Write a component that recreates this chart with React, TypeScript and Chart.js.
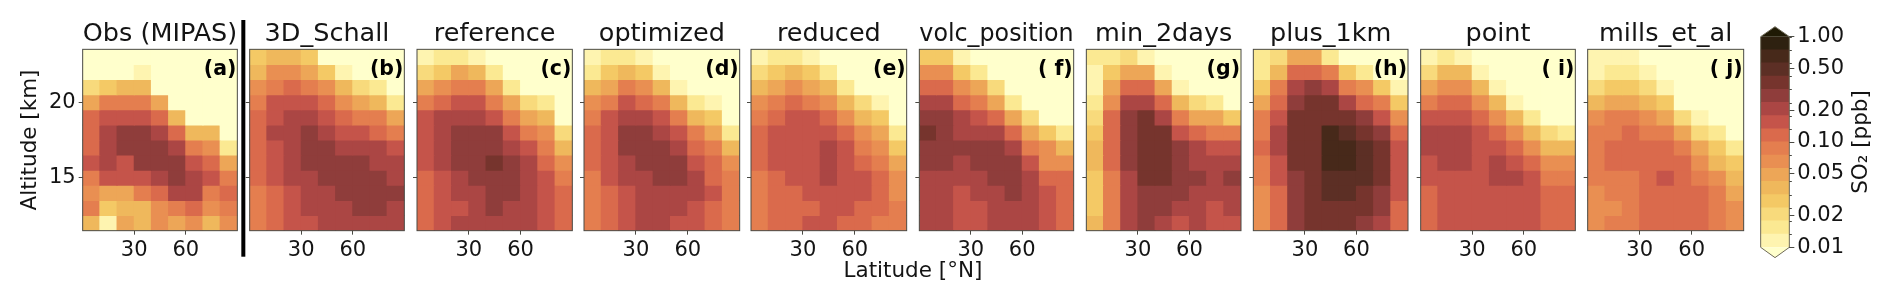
import React, { useEffect, useRef } from "react";
import { Chart, registerables } from "chart.js";

Chart.register(...registerables);

const LATITUDES = [5, 15, 25, 35, 45, 55, 65, 75, 85];
const ALTITUDES = [23, 22, 21, 20, 19, 18, 17, 16, 15, 14, 13, 12];
const LAT_TICKS = [30, 60];
const ALT_TICKS = [15, 20];
const CBAR_TICKS = [0.01, 0.02, 0.05, 0.1, 0.2, 0.5, 1.0];
const LEVELS = [0.01, 0.01334, 0.01778, 0.02371, 0.03162, 0.04217, 0.05623, 0.07499, 0.1, 0.1334, 0.1778, 0.2371, 0.3162, 0.4217, 0.5623, 0.7499, 1.0];
const LEVEL_COLORS = ["#fef4b0", "#fbe992", "#f8da7c", "#f4c965", "#efb85c", "#eda657", "#e98f52", "#e47e4f", "#da6a4c", "#c5544a", "#ab4644", "#8f3d3b", "#76342d", "#5c2f25", "#47291a", "#2e2110"];
const UNDER_COLOR = "#ffffcc";
const OVER_COLOR = "#1f1a05";

const TITLES = ["Obs (MIPAS)", "3D_Schall", "reference", "optimized", "reduced", "volc_position", "min_2days", "plus_1km", "point", "mills_et_al"];
const LETTERS = ["(a)", "(b)", "(c)", "(d)", "(e)", "( f)", "(g)", "(h)", "( i)", "( j)"];

const obs = [
  [.008,.008,.008,.008,.008,.008,.008,.008,.008],
  [.008,.008,.008,.012,.008,.008,.008,.008,.008],
  [.02,.027,.036,.036,.008,.008,.008,.008,.008],
  [.049,.087,.087,.087,.049,.008,.008,.008,.008],
  [.115,.154,.154,.154,.115,.036,.008,.008,.008],
  [.115,.205,.274,.274,.205,.115,.036,.036,.008],
  [.115,.205,.274,.274,.274,.205,.087,.065,.015],
  [.154,.205,.154,.274,.274,.274,.154,.115,.049],
  [.087,.154,.154,.154,.205,.274,.205,.154,.087],
  [.065,.049,.049,.087,.115,.205,.205,.087,.115],
  [.087,.027,.036,.036,.065,.087,.115,.065,.087],
  [.036,.012,.049,.036,.065,.049,.065,.036,.065],
];
const schall = [
  [.027,.036,.036,.027,.008,.008,.008,.008,.008],
  [.036,.065,.065,.049,.027,.012,.008,.008,.008],
  [.065,.087,.115,.087,.065,.036,.02,.015,.008],
  [.087,.154,.154,.154,.115,.065,.049,.036,.015],
  [.115,.154,.205,.205,.154,.115,.087,.087,.049],
  [.115,.205,.205,.274,.205,.154,.154,.115,.087],
  [.115,.154,.205,.274,.274,.205,.205,.205,.154],
  [.115,.154,.205,.274,.274,.274,.274,.205,.205],
  [.115,.154,.205,.205,.274,.274,.274,.274,.205],
  [.087,.115,.154,.205,.205,.274,.274,.274,.274],
  [.087,.115,.154,.205,.205,.205,.274,.274,.205],
  [.087,.115,.154,.154,.205,.205,.205,.205,.205],
];
const reference = [
  [.012,.015,.015,.012,.008,.008,.008,.008,.008],
  [.02,.027,.049,.036,.015,.008,.008,.008,.008],
  [.049,.065,.087,.087,.049,.015,.008,.008,.008],
  [.087,.115,.154,.154,.087,.049,.02,.015,.008],
  [.154,.205,.205,.205,.154,.087,.049,.036,.008],
  [.154,.205,.274,.274,.274,.154,.087,.065,.02],
  [.154,.205,.274,.274,.274,.205,.154,.087,.036],
  [.154,.205,.274,.274,.365,.274,.205,.115,.065],
  [.115,.154,.205,.274,.274,.274,.205,.154,.087],
  [.115,.154,.205,.205,.274,.274,.205,.154,.115],
  [.115,.154,.154,.205,.274,.205,.205,.154,.115],
  [.115,.154,.205,.205,.205,.205,.205,.154,.115],
];
const optimized = [
  [.012,.015,.015,.012,.008,.008,.008,.008,.008],
  [.015,.027,.036,.027,.012,.008,.008,.008,.008],
  [.036,.049,.087,.065,.036,.012,.008,.008,.008],
  [.065,.087,.154,.115,.087,.036,.015,.012,.008],
  [.087,.154,.205,.205,.154,.087,.036,.027,.008],
  [.115,.154,.274,.274,.205,.154,.087,.049,.015],
  [.115,.154,.274,.274,.274,.205,.115,.087,.036],
  [.115,.154,.205,.274,.274,.274,.154,.115,.065],
  [.087,.154,.205,.205,.274,.274,.205,.115,.087],
  [.087,.115,.154,.205,.205,.205,.205,.154,.087],
  [.087,.115,.154,.205,.205,.205,.154,.115,.087],
  [.087,.115,.154,.205,.205,.154,.154,.115,.087],
];
const reduced = [
  [.012,.015,.015,.012,.008,.008,.008,.008,.008],
  [.02,.027,.036,.027,.015,.008,.008,.008,.008],
  [.036,.049,.065,.049,.036,.015,.008,.008,.008],
  [.065,.087,.115,.087,.065,.036,.02,.012,.008],
  [.087,.115,.154,.154,.115,.065,.036,.027,.008],
  [.115,.154,.154,.154,.154,.115,.065,.049,.015],
  [.115,.154,.154,.154,.205,.154,.087,.065,.027],
  [.115,.154,.154,.154,.205,.154,.115,.087,.049],
  [.087,.115,.154,.154,.205,.154,.154,.115,.065],
  [.087,.115,.115,.154,.154,.154,.154,.115,.065],
  [.087,.115,.115,.115,.154,.154,.115,.115,.087],
  [.087,.115,.115,.154,.154,.115,.115,.087,.087],
];
const volcPosition = [
  [.027,.027,.012,.008,.008,.008,.008,.008,.008],
  [.065,.065,.027,.015,.008,.008,.008,.008,.008],
  [.115,.115,.065,.049,.02,.008,.008,.008,.008],
  [.205,.205,.115,.087,.049,.015,.008,.008,.008],
  [.274,.274,.205,.154,.115,.049,.02,.008,.008],
  [.365,.274,.205,.205,.205,.115,.049,.027,.015],
  [.274,.274,.274,.274,.274,.205,.087,.065,.036],
  [.274,.274,.205,.274,.274,.274,.154,.065,.065],
  [.205,.205,.205,.205,.274,.274,.205,.115,.115],
  [.205,.205,.154,.205,.205,.274,.205,.154,.115],
  [.205,.205,.154,.154,.205,.205,.205,.154,.115],
  [.205,.205,.154,.154,.205,.205,.205,.154,.115],
];
const min2days = [
  [.015,.015,.02,.012,.008,.008,.008,.008,.008],
  [.012,.027,.049,.049,.012,.008,.008,.008,.008],
  [.012,.049,.115,.115,.049,.012,.008,.008,.008],
  [.015,.065,.205,.205,.115,.036,.02,.015,.008],
  [.02,.115,.274,.365,.205,.087,.049,.049,.027],
  [.027,.115,.274,.365,.365,.154,.115,.087,.087],
  [.036,.115,.274,.365,.365,.274,.205,.154,.154],
  [.036,.115,.274,.365,.365,.274,.205,.205,.205],
  [.027,.087,.205,.365,.365,.274,.274,.205,.274],
  [.027,.087,.205,.274,.274,.274,.205,.205,.205],
  [.027,.087,.205,.274,.274,.205,.205,.154,.205],
  [.036,.087,.205,.274,.205,.154,.205,.154,.154],
];
const plus1km = [
  [.015,.02,.049,.049,.015,.008,.008,.008,.008],
  [.015,.036,.115,.115,.087,.027,.015,.008,.008],
  [.027,.087,.205,.274,.205,.087,.065,.027,.012],
  [.049,.115,.274,.365,.365,.205,.115,.087,.027],
  [.087,.154,.365,.365,.365,.365,.274,.154,.065],
  [.087,.205,.365,.365,.649,.487,.365,.274,.115],
  [.115,.205,.365,.365,.649,.649,.487,.365,.154],
  [.087,.154,.365,.365,.649,.649,.487,.365,.154],
  [.087,.154,.274,.365,.487,.487,.487,.365,.154],
  [.065,.115,.274,.365,.487,.487,.365,.274,.154],
  [.065,.115,.274,.365,.365,.365,.365,.274,.115],
  [.065,.115,.274,.365,.365,.365,.274,.205,.115],
];
const point = [
  [.012,.015,.012,.008,.008,.008,.008,.008,.008],
  [.02,.036,.036,.012,.008,.008,.008,.008,.008],
  [.049,.065,.065,.036,.012,.008,.008,.008,.008],
  [.087,.115,.115,.065,.036,.012,.008,.008,.008],
  [.154,.154,.154,.115,.065,.036,.015,.008,.008],
  [.205,.205,.205,.154,.115,.065,.036,.02,.015],
  [.205,.205,.205,.154,.154,.115,.065,.036,.036],
  [.154,.205,.205,.154,.205,.154,.115,.065,.065],
  [.154,.154,.154,.154,.205,.205,.154,.087,.087],
  [.115,.154,.154,.154,.154,.154,.154,.115,.115],
  [.115,.154,.154,.154,.154,.154,.154,.115,.115],
  [.115,.154,.154,.154,.154,.154,.154,.115,.115],
];
const millsEtAl = [
  [.012,.012,.012,.008,.008,.008,.008,.008,.008],
  [.012,.015,.015,.012,.008,.008,.008,.008,.008],
  [.02,.027,.027,.02,.012,.008,.008,.008,.008],
  [.036,.049,.049,.036,.027,.008,.008,.008,.008],
  [.065,.087,.087,.065,.049,.02,.012,.008,.008],
  [.087,.087,.115,.087,.087,.049,.02,.015,.008],
  [.087,.115,.115,.115,.115,.087,.049,.027,.015],
  [.087,.115,.115,.115,.115,.115,.065,.036,.027],
  [.087,.087,.087,.115,.154,.115,.087,.065,.036],
  [.065,.087,.087,.115,.115,.115,.115,.087,.049],
  [.065,.065,.087,.115,.115,.115,.115,.087,.065],
  [.065,.087,.087,.115,.115,.115,.115,.087,.065],
];
const PANEL_VALUES = [obs, schall, reference, optimized, reduced, volcPosition, min2days, plus1km, point, millsEtAl];

const PANEL_EDGES = [[82.67, 237.33], [249.67, 404.33], [417, 572.33], [584, 739.67], [751, 906.67], [919.33, 1073.67], [1086.33, 1241], [1253.33, 1408], [1420.67, 1575.33], [1587.67, 1743.67]];
const PLOT_TOP = 49.33;
const PLOT_BOTTOM = 230.67;
const FONT = '"DejaVu Sans"';
const INK = "#141414";
const FRAME = "#4a4a44";
const TITLE_SIZE = 25.5;
const TICK_SIZE = 21;
const LABEL_SIZE = 21.5;
const LETTER_SIZE = 20.5;

function colorFor(v: number) {
  if (v < LEVELS[0]) return UNDER_COLOR;
  for (let i = 0; i < LEVEL_COLORS.length; i++) if (v < LEVELS[i + 1]) return LEVEL_COLORS[i];
  return OVER_COLOR;
}

const panelDecor = {
  id: "panelDecor",
  afterDatasetsDraw(chart: any) {
    const { ctx, chartArea: c } = chart;
    ctx.save();
    ctx.strokeStyle = FRAME;
    ctx.lineWidth = 1;
    ctx.strokeRect(c.left, c.top, c.right - c.left, c.bottom - c.top);
    ctx.restore();
  },
  afterDraw(chart: any, _a: any, o: any) {
    const { ctx, chartArea: c } = chart;
    ctx.save();
    ctx.fillStyle = "#000";
    ctx.font = `bold ${LETTER_SIZE}px ${FONT}`;
    ctx.textAlign = "right";
    ctx.textBaseline = "alphabetic";
    ctx.fillText(o.letter, c.right - 1, c.top + 25.5);
    if (o.divider) {
      ctx.fillStyle = "#000";
      ctx.fillRect(c.right + 4, 20, 4, 236.7);
    }
    if (o.sharedLabel) {
      ctx.fillStyle = INK;
      ctx.font = `${LABEL_SIZE}px ${FONT}`;
      ctx.textAlign = "center";
      ctx.fillText(o.sharedLabel, c.right + 6.3, 277);
    }
    ctx.restore();
  },
};

const cbarDecor = {
  id: "cbarDecor",
  afterDraw(chart: any) {
    const { ctx, chartArea: c, scales } = chart;
    const y = scales.y;
    const top = y.getPixelForValue(1.0);
    const bot = y.getPixelForValue(0.01);
    const mid = (c.left + c.right) / 2;
    ctx.save();
    ctx.fillStyle = OVER_COLOR;
    ctx.beginPath();
    ctx.moveTo(c.left, top);
    ctx.lineTo(mid, top - 10);
    ctx.lineTo(c.right, top);
    ctx.closePath();
    ctx.fill();
    ctx.fillStyle = UNDER_COLOR;
    ctx.beginPath();
    ctx.moveTo(c.left, bot);
    ctx.lineTo(mid, bot + 10.3);
    ctx.lineTo(c.right, bot);
    ctx.closePath();
    ctx.fill();
    ctx.strokeStyle = "#6f6a58";
    ctx.lineWidth = 1;
    ctx.beginPath();
    ctx.moveTo(c.left, top);
    ctx.lineTo(mid, top - 10);
    ctx.lineTo(c.right, top);
    ctx.lineTo(c.right, bot);
    ctx.lineTo(mid, bot + 10.3);
    ctx.lineTo(c.left, bot);
    ctx.closePath();
    ctx.stroke();
    ctx.strokeStyle = FRAME;
    for (const lv of LEVELS) {
      const p = Math.round(y.getPixelForValue(lv)) + 0.5;
      ctx.beginPath();
      ctx.moveTo(c.right, p);
      ctx.lineTo(c.right + 2.5, p);
      ctx.stroke();
    }
    ctx.translate(111, 142);
    ctx.rotate(-Math.PI / 2);
    ctx.fillStyle = INK;
    ctx.font = `${LABEL_SIZE}px ${FONT}`;
    ctx.textAlign = "center";
    ctx.textBaseline = "middle";
    ctx.fillText("SO₂ [ppb]", 0, 0);
    ctx.restore();
  },
};

function panelConfig(index: number, padL: number, padR: number) {
  const first = index === 0;
  const rows = PANEL_VALUES[index];
  return {
    type: "bar",
    data: {
      datasets: ALTITUDES.map((alt, r) => ({
        data: LATITUDES.map((lat) => ({ x: lat, y: [alt - 0.5, alt + 0.5] })),
        backgroundColor: rows[r].map(colorFor),
        borderWidth: 0,
        inflateAmount: 0.5,
        grouped: false,
        barPercentage: 1,
        categoryPercentage: 1,
      })),
    },
    options: {
      animation: false,
      responsive: false,
      devicePixelRatio: 1,
      events: [],
      layout: { autoPadding: false, padding: { top: PLOT_TOP - TITLE_SIZE - 2, right: padR, bottom: 0, left: 0 } },
      plugins: {
        legend: { display: false },
        tooltip: { enabled: false },
        title: {
          display: true,
          text: TITLES[index],
          fullSize: false,
          color: INK,
          font: { family: FONT, size: TITLE_SIZE, weight: "normal", lineHeight: 1 },
          padding: { top: 0, bottom: 2 },
        },
        panelDecor: { letter: LETTERS[index], divider: first, sharedLabel: index === 4 ? "Latitude [°N]" : "" },
      },
      scales: {
        x: {
          type: "linear",
          offset: false,
          min: 0,
          max: 90,
          afterBuildTicks: (s: any) => { s.ticks = LAT_TICKS.map((value) => ({ value })); },
          afterFit: (s: any) => { s.height = 300 - PLOT_BOTTOM; },
          grid: { offset: false, drawOnChartArea: false, tickLength: 4, tickColor: FRAME },
          border: { display: false },
          ticks: { color: INK, font: { family: FONT, size: TICK_SIZE }, padding: 3, maxRotation: 0, autoSkip: false },
        },
        y: {
          type: "linear",
          min: 11.5,
          max: 23.5,
          afterBuildTicks: (s: any) => { s.ticks = ALT_TICKS.map((value) => ({ value })); },
          afterFit: (s: any) => { s.width = padL; },
          grid: { drawOnChartArea: false, tickLength: 4, tickColor: FRAME },
          border: { display: false },
          ticks: { display: first, color: INK, font: { family: FONT, size: TICK_SIZE }, padding: 3 },
          title: {
            display: first,
            text: "Altitude [km]",
            color: INK,
            font: { family: FONT, size: LABEL_SIZE, lineHeight: 1 },
            padding: { top: 20, bottom: 0 },
          },
        },
      },
    },
    plugins: [panelDecor],
  };
}

function cbarConfig(width: number) {
  return {
    type: "bar",
    data: {
      labels: ["SO2"],
      datasets: LEVEL_COLORS.map((color, i) => ({
        data: [[LEVELS[i], LEVELS[i + 1]]],
        backgroundColor: color,
        borderWidth: 0,
        inflateAmount: 0.4,
        grouped: false,
        barPercentage: 1,
        categoryPercentage: 1,
      })),
    },
    options: {
      animation: false,
      responsive: false,
      devicePixelRatio: 1,
      events: [],
      layout: { autoPadding: false, padding: { top: 36.67, right: 0, bottom: 300 - 247.33, left: 10.67 } },
      plugins: { legend: { display: false }, tooltip: { enabled: false } },
      scales: {
        x: { type: "category", display: false },
        y: {
          type: "logarithmic",
          position: "right",
          min: 0.01,
          max: 1,
          afterBuildTicks: (s: any) => { s.ticks = CBAR_TICKS.map((value) => ({ value })); },
          afterFit: (s: any) => { s.width = width - 39.33; },
          grid: { drawOnChartArea: false, tickLength: 5, tickColor: FRAME },
          border: { display: false },
          ticks: { color: INK, font: { family: FONT, size: TICK_SIZE }, padding: 3, callback: (v: any) => Number(v).toFixed(2) },
        },
      },
    },
    plugins: [cbarDecor],
  };
}

export default function App() {
  const panelRefs = useRef<(HTMLCanvasElement | null)[]>([]);
  const cbarRef = useRef<HTMLCanvasElement | null>(null);

  const layouts = PANEL_EDGES.map(([l, r], i) => {
    const canvasLeft = i === 0 ? 0 : Math.floor(l) - 20;
    const padL = l - canvasLeft;
    const padR = i === 0 ? 14 : i === 4 ? 90 : 20;
    const width = Math.ceil(r + padR) - canvasLeft;
    return { canvasLeft, padL, padR: canvasLeft + width - r, width };
  });

  useEffect(() => {
    const charts = layouts.map((g, i) => new Chart(panelRefs.current[i] as any, panelConfig(i, g.padL, g.padR) as any));
    charts.push(new Chart(cbarRef.current as any, cbarConfig(142) as any));
    return () => charts.forEach((c) => c.destroy());
  }, []);

  return (
    <div style={{ position: "absolute", left: 0, top: 0, width: 1892, height: 300, overflow: "hidden", background: "#fff", filter: "blur(0.45px)" }}>
      {layouts.map((g, i) => (
        <canvas
          key={i}
          ref={(el) => { panelRefs.current[i] = el; }}
          width={g.width}
          height={300}
          style={{ position: "absolute", left: g.canvasLeft, top: 0, width: g.width, height: 300 }}
        />
      ))}
      <canvas ref={cbarRef} width={142} height={300} style={{ position: "absolute", left: 1750, top: 0, width: 142, height: 300 }} />
    </div>
  );
}
